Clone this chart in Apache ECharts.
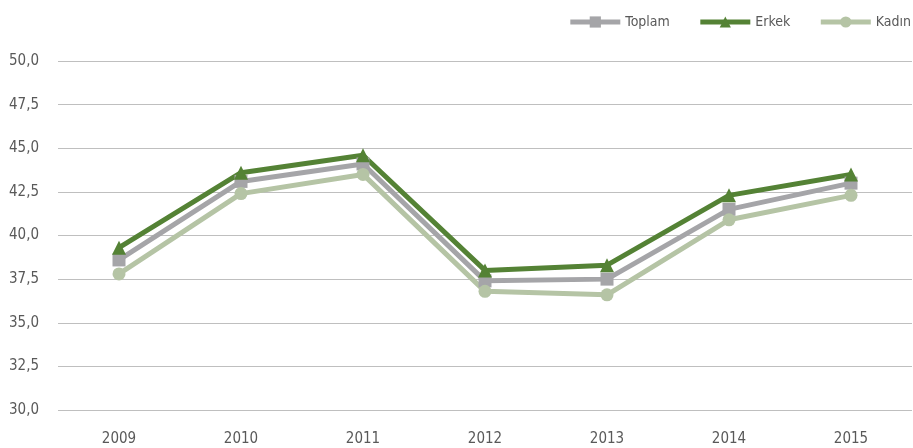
<!DOCTYPE html>
<html>
<head>
<meta charset="utf-8">
<script src="https://cdn.jsdelivr.net/npm/echarts@6/dist/echarts.min.js"></script>
<style>
  html, body { margin: 0; padding: 0; background: #fff; }
  #chart { width: 913px; height: 448px; }
</style>
</head>
<body>
<div id="chart"></div>
<script>
const years = ["2009", "2010", "2011", "2012", "2013", "2014", "2015"];
const toplam = [38.6, 43.1, 44.1, 37.4, 37.5, 41.5, 43.0];
const erkek = [39.3, 43.6, 44.6, 38.0, 38.3, 42.3, 43.5];
const kadin = [37.8, 42.4, 43.5, 36.8, 36.6, 40.9, 42.3];

const font = "'DejaVu Sans Condensed', 'Roboto', sans-serif";
const textColor = "#595959";

const chart = echarts.init(document.getElementById("chart"));

const mkSeries = (name, data, color, symbol, size) => ({
  name: name,
  type: "line",
  data: data,
  symbol: symbol,
  symbolSize: size,
  lineStyle: { width: 5, color: color },
  itemStyle: { color: color },
  emphasis: { disabled: true },
});

chart.setOption({
  animation: false,
  textStyle: { fontFamily: font },
  legend: {
    top: 10,
    right: -3,
    itemWidth: 50,
    itemHeight: 14,
    itemGap: 28,
    lineStyle: { width: 5 },
    textStyle: { color: textColor, fontSize: 14, fontFamily: font },
  },
  grid: { left: 58, right: 1, top: 61, bottom: 38 },
  xAxis: {
    type: "category",
    data: years,
    axisLine: { show: false },
    axisTick: { show: false },
    axisLabel: { color: textColor, fontSize: 15, margin: 22 },
  },
  yAxis: {
    type: "value",
    min: 30,
    max: 50,
    interval: 2.5,
    axisLine: { show: false },
    axisTick: { show: false },
    axisLabel: {
      color: textColor,
      fontSize: 15,
      margin: 19,
      formatter: (v) => v.toFixed(1).replace(".", ","),
    },
    splitLine: { lineStyle: { color: "#bfbfbf", width: 1 } },
  },
  series: [
    mkSeries("Toplam", toplam, "#a5a5a8", "rect", 13),
    mkSeries("Erkek", erkek, "#548235", "triangle", 14),
    mkSeries("Kadın", kadin, "#b5c4a5", "circle", 13),
  ],
});
</script>
</body>
</html>
